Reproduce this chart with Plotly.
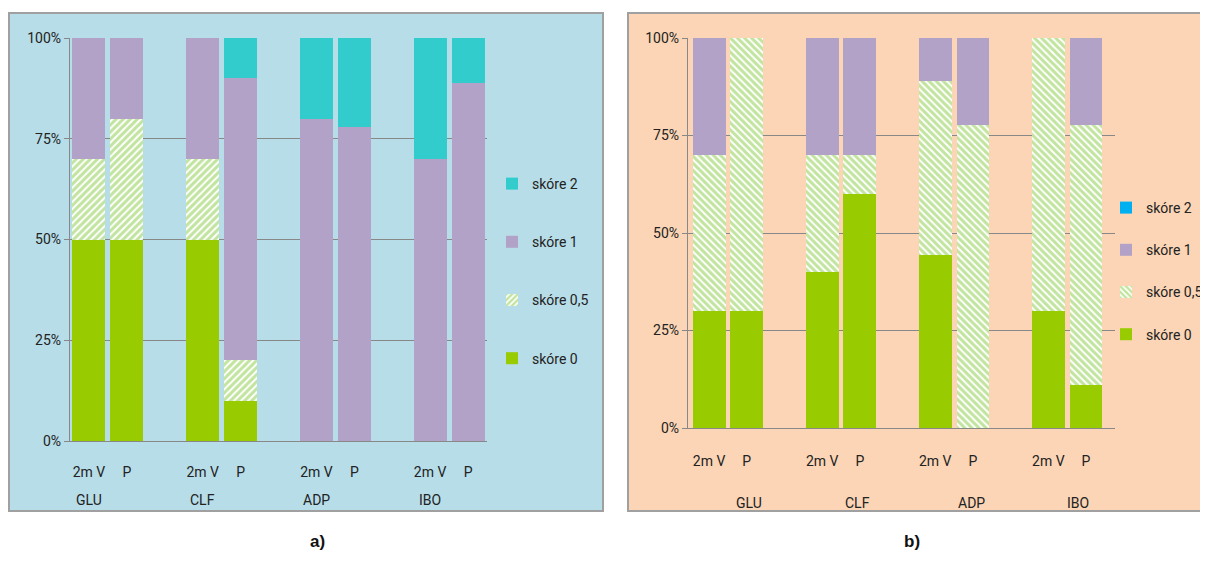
import plotly.graph_objects as go

groups = ["GLU", "CLF", "ADP", "IBO"]
bars = ["2m V", "P"]
series = ["skóre 0", "skóre 0,5", "skóre 1", "skóre 2"]

# panel a) values in % (order: GLU 2mV, GLU P, CLF 2mV, CLF P, ADP 2mV, ADP P, IBO 2mV, IBO P)
a_s0 = [50, 50, 50, 10, 0, 0, 0, 0]
a_s05 = [20, 30, 20, 10, 0, 0, 0, 0]
a_s1 = [30, 20, 30, 70, 80, 77.8, 70, 88.9]
a_s2 = [0, 0, 0, 10, 20, 22.2, 30, 11.1]

# panel b)
b_s0 = [30, 30, 40, 60, 44.4, 0, 30, 11.1]
b_s05 = [40, 70, 30, 10, 44.5, 77.8, 70, 66.7]
b_s1 = [30, 0, 30, 30, 11.1, 22.2, 0, 22.2]
b_s2 = [0, 0, 0, 0, 0, 0, 0, 0]

y_ticks = [0, 25, 50, 75, 100]
y_ticktext = [f"{v}%" for v in y_ticks]

# slot positions: two bars per group, one empty slot between groups
xpos = [g * 3 + k for g in range(len(groups)) for k in range(len(bars))]
xlabels = [b for g in groups for b in bars]

FONT = "Roboto, Liberation Sans Narrow, sans-serif"
GREEN = "#99CC00"
HATCH = "#84C940"
LAV = "#B3A2C7"
TEAL = "#33CCCC"
BLUE = "#00B0F0"

fig = go.Figure()

def add_panel(vals, xa, ya, legend, shape, s2col):
    cols = [GREEN, None, LAV, s2col]
    for i, (name, v) in enumerate(zip(series, vals)):
        if i == 1:
            marker = dict(color="white", line=dict(width=0),
                          pattern=dict(shape=shape, fgcolor=HATCH, bgcolor="white",
                                       size=5, solidity=0.6))
        else:
            marker = dict(color=cols[i], line=dict(width=0))
        fig.add_trace(go.Bar(x=xpos, y=v, name=name, marker=marker, width=0.87,
                             xaxis=xa, yaxis=ya, legend=legend,
                             legendgroup=legend + name, legendrank=10 - i,
                             showlegend=True))

add_panel([a_s0, a_s05, a_s1, a_s2], "x", "y", "legend", "/", TEAL)
add_panel([b_s0, b_s05, b_s1, b_s2], "x2", "y2", "legend2", "\\", BLUE)

# page body has an 8px margin; work in screenshot pixels and convert
OFF = 8
W, H = 1200, 565
def px(x): return (x - OFF) / W
def py(y): return 1 - (y - OFF) / H

axis_font = dict(family=FONT, size=14, color="#222")
common_x = dict(tickvals=xpos, ticktext=xlabels, ticks="outside",
                tickcolor="rgba(0,0,0,0)", showgrid=False, zeroline=False,
                showline=True, linecolor="#888", linewidth=1.3, tickfont=axis_font,
                automargin=False)
common_y = dict(range=[0, 100], tickvals=y_ticks, ticktext=y_ticktext, showgrid=True,
                gridcolor="#888", gridwidth=1.2, zeroline=False, showline=True,
                linecolor="#888", linewidth=1.3, ticks="outside", ticklen=5,
                tickcolor="#888", tickfont=axis_font, automargin=False)

legend_common = dict(font=dict(family=FONT, size=14, color="#222"),
                     bgcolor="rgba(0,0,0,0)", traceorder="grouped",
                     itemwidth=30, xanchor="left", yanchor="top")

fig.update_layout(
    width=W, height=H, margin=dict(l=0, r=0, t=0, b=0, autoexpand=False),
    paper_bgcolor="white", plot_bgcolor="white", barmode="stack", bargap=0,
    xaxis=dict(domain=[px(70), px(487)], range=[-0.5, 10.5], anchor="y",
               ticklen=18, **common_x),
    yaxis=dict(domain=[py(441), py(38)], anchor="x", **common_y),
    xaxis2=dict(domain=[px(688), px(1115)], range=[-0.56, 10.77], anchor="y2",
                ticklen=20, **common_x),
    yaxis2=dict(domain=[py(428), py(38)], anchor="x2", **common_y),
    legend=dict(x=px(492), y=py(168), tracegroupgap=37, **legend_common),
    legend2=dict(x=px(1106), y=py(192), tracegroupgap=21, **legend_common),
    showlegend=True,
    shapes=[
        dict(type="rect", xref="paper", yref="paper", x0=px(9), x1=px(603),
             y0=py(511), y1=py(13), fillcolor="#B7DDE8",
             line=dict(color="#A0A0A0", width=2), layer="below"),
        dict(type="rect", xref="paper", yref="paper", x0=px(628), x1=px(1212),
             y0=py(511), y1=py(13), fillcolor="#FBD5B5",
             line=dict(color="#A0A0A0", width=2), layer="below"),
    ],
)

annots = []
# group labels panel a) under the first bar of each group
for g, name in enumerate(groups):
    annots.append(dict(x=g * 3, y=py(500), xref="x", yref="paper", text=name,
                       showarrow=False, font=axis_font, yanchor="middle"))
# group labels panel b)
b_lab_x = [1.05, 3.95, 6.95, 9.8]
for xv, name in zip(b_lab_x, groups):
    annots.append(dict(x=xv, y=py(503), xref="x2", yref="paper", text=name,
                       showarrow=False, font=axis_font, yanchor="middle"))
annots.append(dict(x=px(308), y=py(553), xref="paper", yref="paper", text="<b>a)</b>",
                   showarrow=False, font=dict(family="Liberation Sans, Arial", size=17, color="#111")))
annots.append(dict(x=px(922), y=py(553), xref="paper", yref="paper", text="<b>b)</b>",
                   showarrow=False, font=dict(family="Liberation Sans, Arial", size=17, color="#111")))
fig.update_layout(annotations=annots)

fig.write_html("out.html")
